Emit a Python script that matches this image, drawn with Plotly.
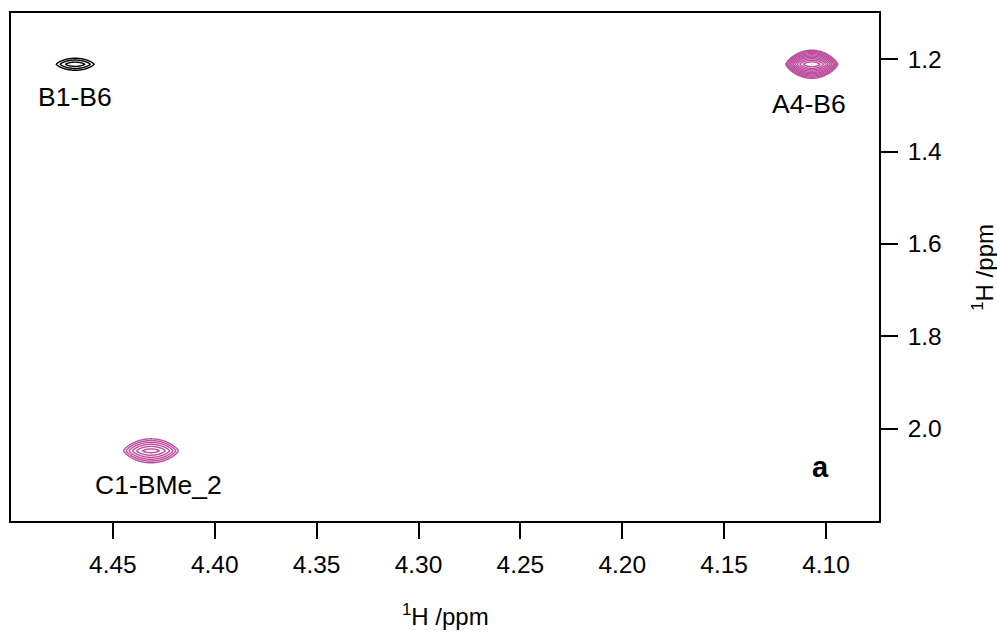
import numpy as np
import plotly.graph_objects as go

# ---- data ----
peak_labels = ["B1-B6", "A4-B6", "C1-BMe_2"]
peak_x = [4.4685, 4.1070, 4.4313]          # 1H ppm (F2, horizontal)
peak_y = [1.211, 1.211, 2.048]             # 1H ppm (F1, vertical)
peak_height = [-2.03, 13.79, 4.23]         # intensity in units of the lowest contour level
peak_width_x = [0.0078, 0.00557, 0.00793]  # ppm (sigma along F2)
peak_width_y = [0.0184, 0.0116, 0.0180]    # ppm (decay width along F1)

x_ticks = [4.45, 4.40, 4.35, 4.30, 4.25, 4.20, 4.15, 4.10]
y_ticks = [1.2, 1.4, 1.6, 1.8, 2.0]
panel_letter = "a"

level_factor = 1.3
shape_power = 1.3
POS_COLOR = "#BE4E9E"
NEG_COLOR = "#000000"
FONT = "Arial, Liberation Sans, Helvetica, sans-serif"

fig = go.Figure()

for px, py, h, wx, wy in zip(peak_x, peak_y, peak_height, peak_width_x, peak_width_y):
    ln_a = np.log(abs(h))
    # outer half extents, so that the outer contour keeps the read-off size
    hx = wx * np.sqrt(2 * ln_a)
    hy = wy * ln_a
    by = hy / ln_a ** (1 / shape_power)
    gx = np.linspace(px - 1.4 * hx, px + 1.4 * hx, 201)
    gy = np.linspace(py - 1.4 * hy, py + 1.4 * hy, 201)
    X, Y = np.meshgrid(gx, gy)
    log_i = ln_a - (X - px) ** 2 / (2 * wx ** 2) - (np.abs(Y - py) / by) ** shape_power
    z = log_i / np.log(level_factor)
    color = POS_COLOR if h > 0 else NEG_COLOR
    fig.add_trace(go.Contour(
        x=gx, y=gy, z=z,
        autocontour=False,
        contours=dict(start=0, end=30, size=1, coloring="lines"),
        colorscale=[[0, color], [1, color]],
        line=dict(width=1.4),
        showscale=False,
        hoverinfo="skip",
    ))

# peak labels (placed relative to peak positions)
label_shift = [(0, -33), (-3, -40), (8, -34)]
for lab, px, py, (dx, dy) in zip(peak_labels, peak_x, peak_y, label_shift):
    fig.add_annotation(x=px, y=py, xref="x", yref="y", text=lab, showarrow=False,
                       xshift=dx, yshift=dy, font=dict(family=FONT, size=26.5, color="black"))

fig.add_annotation(x=4.1025, y=2.084, xref="x", yref="y", text="<b>%s</b>" % panel_letter,
                   showarrow=False, font=dict(family=FONT, size=29, color="black"))

# axis titles
fig.add_annotation(x=0.5, y=-0.185, xref="paper", yref="paper", text="<sup>1</sup>H /ppm",
                   showarrow=False, xanchor="center", yanchor="middle",
                   font=dict(family=FONT, size=24, color="black"))
fig.add_annotation(x=1.1195, y=0.5, xref="paper", yref="paper", text="<sup>1</sup>H /ppm",
                   showarrow=False, textangle=-90, xanchor="center", yanchor="middle",
                   font=dict(family=FONT, size=24, color="black"))

fig.update_layout(
    width=997, height=633,
    margin=dict(l=9, r=118, t=13, b=112),
    paper_bgcolor="white", plot_bgcolor="white",
    showlegend=False,
    font=dict(family=FONT, size=24, color="black"),
    xaxis=dict(
        range=[4.50, 4.074], tickvals=x_ticks, tickformat=".2f",
        ticks="outside", ticklen=16, tickwidth=1.5, tickcolor="black",
        showline=True, linecolor="black", linewidth=1.5, mirror=True,
        showgrid=False, zeroline=False, ticklabelstandoff=5,
        tickfont=dict(family=FONT, size=24.5, color="black"),
    ),
    yaxis=dict(
        range=[2.20, 1.10], tickvals=y_ticks, tickformat=".1f", side="right",
        ticks="outside", ticklen=17, tickwidth=1.5, tickcolor="black",
        showline=True, linecolor="black", linewidth=1.5, mirror=True,
        showgrid=False, zeroline=False, ticklabelstandoff=5,
        tickfont=dict(family=FONT, size=24.5, color="black"),
    ),
)

fig.write_html("out.html", config={"displayModeBar": False},
               post_script="document.body.style.margin='0';document.body.style.padding='0';")
